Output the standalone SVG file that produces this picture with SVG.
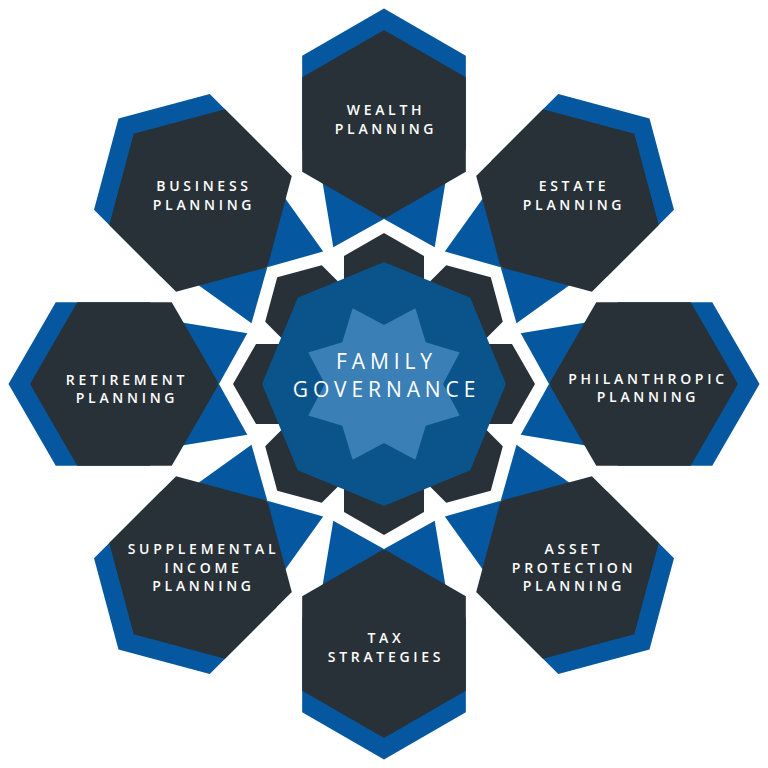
<svg xmlns="http://www.w3.org/2000/svg" xmlns:xlink="http://www.w3.org/1999/xlink" width="768" height="768" viewBox="0 0 768 768">
<style>
.bh{fill:#0558a0}
.bt{fill:#0558a0}
.dh{fill:#283137}
.gear{fill:#283137}
.oct{fill:#0b548b}
.star{fill:#3b7fb7}
.lbl{font-family:"Open Sans","DejaVu Sans",sans-serif;font-weight:600;font-size:14px;letter-spacing:3.7px;fill:#ffffff;text-anchor:middle}
.title{font-family:"Open Sans","DejaVu Sans",sans-serif;font-weight:500;font-size:21px;letter-spacing:4.9px;fill:#ffffff;text-anchor:middle}
</style>
<defs>
<g id="nodeShape">
<polygon class="bh" points="384,8.5 465.84,55.75 465.84,150.25 384,197.5 302.16,150.25 302.16,55.75"/>
<polygon class="bt" points="319.5,164.1 333.3,247.3 384,219"/>
<polygon class="bt" points="448.5,164.1 434.7,247.3 384,219"/>
<polygon class="dh" points="384,30 465.84,77.25 465.84,171.75 384,219 302.16,171.75 302.16,77.25"/>
</g>
</defs>
<g id="node-wealth">
<use xlink:href="#nodeShape"/>
<text class="lbl" x="386" y="115">WEALTH</text>
<text class="lbl" x="386" y="134">PLANNING</text>
</g>
<g id="node-estate">
<use xlink:href="#nodeShape" transform="rotate(45 384 384)"/>
<text class="lbl" x="574" y="191">ESTATE</text>
<text class="lbl" x="574" y="210">PLANNING</text>
</g>
<g id="node-philanthropic">
<use xlink:href="#nodeShape" transform="rotate(90 384 384)"/>
<text class="lbl" x="648" y="383.5">PHILANTHROPIC</text>
<text class="lbl" x="648" y="402">PLANNING</text>
</g>
<g id="node-asset">
<use xlink:href="#nodeShape" transform="rotate(135 384 384)"/>
<text class="lbl" x="574" y="554.3">ASSET</text>
<text class="lbl" x="574" y="572.6">PROTECTION</text>
<text class="lbl" x="574" y="591">PLANNING</text>
</g>
<g id="node-tax">
<use xlink:href="#nodeShape" transform="rotate(180 384 384)"/>
<text class="lbl" x="386" y="642.7">TAX</text>
<text class="lbl" x="386" y="661.7">STRATEGIES</text>
</g>
<g id="node-supplemental">
<use xlink:href="#nodeShape" transform="rotate(225 384 384)"/>
<text class="lbl" x="203.5" y="554.3">SUPPLEMENTAL</text>
<text class="lbl" x="203.5" y="572.6">INCOME</text>
<text class="lbl" x="203.5" y="591">PLANNING</text>
</g>
<g id="node-retirement">
<use xlink:href="#nodeShape" transform="rotate(270 384 384)"/>
<text class="lbl" x="127" y="385">RETIREMENT</text>
<text class="lbl" x="127" y="403">PLANNING</text>
</g>
<g id="node-business">
<use xlink:href="#nodeShape" transform="rotate(315 384 384)"/>
<text class="lbl" x="204" y="191">BUSINESS</text>
<text class="lbl" x="204" y="210">PLANNING</text>
</g>
<g id="connectors"></g>
<g id="node-family-governance">
<polygon class="gear" points="344,256 384,233 424,256 424,287.4 446.23,265.21 490.77,277.23 502.79,321.77 480.59,343.98 512,344 535,384 512,424 480.6,424 502.79,446.23 490.77,490.77 446.23,502.79 424.02,480.59 424,512 384,535 344,512 344,480.6 321.77,502.79 277.23,490.77 265.21,446.23 287.41,424.02 256,424 233,384 256,344 287.4,344 265.21,321.77 277.23,277.23 321.77,265.21 343.98,287.41"/>
<polygon class="oct" points="384,262 470.27,297.73 506,384 470.27,470.27 384,506 297.73,470.27 262,384 297.73,297.73"/>
<polygon class="star" points="384,325 415.38,308.24 425.72,342.28 459.76,352.62 443,384 459.76,415.38 425.72,425.72 415.38,459.76 384,443 352.62,459.76 342.28,425.72 308.24,415.38 325,384 308.24,352.62 342.28,342.28 352.62,308.24"/>
<text class="title"><tspan x="386.5" y="368.5">FAMILY</tspan><tspan x="386.5" y="397.2">GOVERNANCE</tspan></text>
</g>
</svg>
